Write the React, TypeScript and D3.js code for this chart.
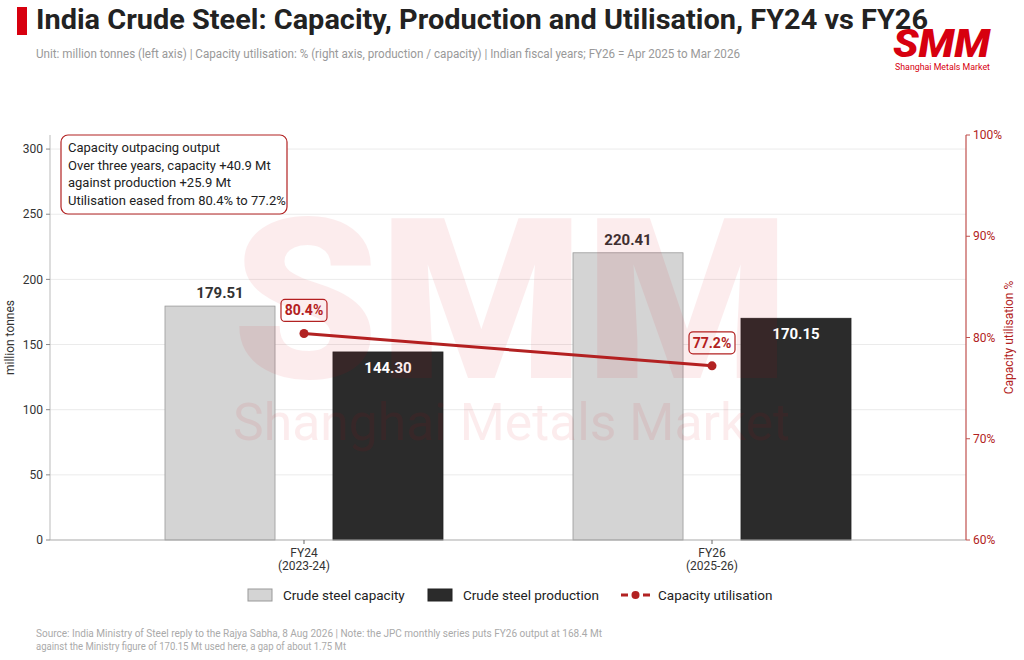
import * as d3 from 'd3';

const categories = ['FY24', 'FY26'];
const categorySub = ['(2023-24)', '(2025-26)'];
const capacity = [179.51, 220.41];
const production = [144.3, 170.15];
const utilisation = [80.4, 77.2];
const leftTicks = [0, 50, 100, 150, 200, 250, 300];
const rightTicks = [60, 70, 80, 90, 100];
const noteLines = [
  'Capacity outpacing output',
  'Over three years, capacity +40.9 Mt',
  'against production +25.9 Mt',
  'Utilisation eased from 80.4% to 77.2%',
];

const W = 1024;
const H = 660;
const margin = { top: 135, right: 58, bottom: 120, left: 50 };
const FONT = 'Roboto, "Noto Sans", sans-serif';
const RED = '#b22222';
const BRAND = '#d7000f';

const App = () => {
  const x0 = margin.left;
  const x1 = W - margin.right;
  const y0 = H - margin.bottom;
  const y1 = margin.top;

  const xScale = d3.scaleBand<string>()
    .domain(categories)
    .range([x0, x1])
    .paddingInner(0)
    .paddingOuter(0.1225);

  // capacity / production side by side inside each category
  const inner = d3.scaleBand<string>()
    .domain(['capacity', 'production'])
    .range([-139, 139])
    .paddingInner(0.345)
    .paddingOuter(0);

  const yLeft = d3.scaleLinear().domain([0, 310.8]).range([y0, y1]);
  const yRight = d3.scaleLinear().domain([60, 100]).range([y0, y1]);

  const cx = (c: string) => (xScale(c) || 0) + xScale.bandwidth() / 2;

  const line = d3.line<number>()
    .x((_, i) => cx(categories[i]))
    .y(d => yRight(d));

  const bw = inner.bandwidth();

  return (
    <svg width={W} height={H} style={{ position: 'absolute', left: 0, top: 0, background: '#fff' }} fontFamily={FONT}>
      <rect width={W} height={H} fill="#fff" />

      {/* header */}
      <rect x={17} y={7} width={10} height={28} fill={BRAND} />
      <text x={36} y={29} fontSize={27} fontWeight={700} fill="#222" textLength={892} lengthAdjust="spacingAndGlyphs">
        India Crude Steel: Capacity, Production and Utilisation, FY24 vs FY26
      </text>
      <text x={36} y={58} fontSize={12} fill="#999" textLength={704} lengthAdjust="spacingAndGlyphs">
        Unit: million tonnes (left axis) | Capacity utilisation: % (right axis, production / capacity) | Indian fiscal years; FY26 = Apr 2025 to Mar 2026
      </text>
      <text x={893} y={57} fontSize={38} fontWeight={900} fontStyle="italic" fill={BRAND} textLength={97} lengthAdjust="spacingAndGlyphs">SMM</text>
      <text x={895} y={70} fontSize={9.5} fill={BRAND} textLength={95} lengthAdjust="spacingAndGlyphs">Shanghai Metals Market</text>

      {/* grid */}
      {leftTicks.filter(t => t > 0).map(t => (
        <line key={t} x1={x0} x2={x1} y1={yLeft(t)} y2={yLeft(t)} stroke="#ebebeb" strokeWidth={1} />
      ))}

      {/* bars */}
      {categories.map((c, i) => (
        <g key={c} transform={`translate(${cx(c)},0)`}>
          <rect x={inner('capacity')} y={yLeft(capacity[i])} width={bw} height={y0 - yLeft(capacity[i])}
            fill="#d4d4d4" stroke="#999" strokeWidth={0.8} />
          <rect x={inner('production')} y={yLeft(production[i])} width={bw} height={y0 - yLeft(production[i])}
            fill="#2b2b2b" stroke="#222" strokeWidth={0.8} />
          <text x={(inner('capacity') || 0) + bw / 2} y={yLeft(capacity[i]) - 8} textAnchor="middle"
            fontSize={15} fontWeight={700} fill="#333">{capacity[i].toFixed(2)}</text>
          <text x={(inner('production') || 0) + bw / 2} y={yLeft(production[i]) + 21} textAnchor="middle"
            fontSize={15} fontWeight={700} fill="#fff">{production[i].toFixed(2)}</text>
        </g>
      ))}

      {/* utilisation line */}
      <path d={line(utilisation) || ''} fill="none" stroke={RED} strokeWidth={3} />
      {utilisation.map((u, i) => {
        const px = cx(categories[i]);
        const py = yRight(u);
        return (
          <g key={i}>
            <circle cx={px} cy={py} r={4.5} fill={RED} />
            <rect x={px - 23} y={py - 34} width={46} height={22} rx={4} fill="#fff" stroke={RED} strokeWidth={1.2} />
            <text x={px} y={py - 18} textAnchor="middle" fontSize={14} fontWeight={700} fill={RED}>{u.toFixed(1)}%</text>
          </g>
        );
      })}

      {/* watermark */}
      <g opacity={0.07} fill={BRAND}>
        <text x={232} y={378} fontSize={225} fontWeight={900} textLength={558} lengthAdjust="spacingAndGlyphs">SMM</text>
        <text x={233} y={440} fontSize={52} textLength={557} lengthAdjust="spacingAndGlyphs">Shanghai Metals Market</text>
      </g>

      {/* left axis */}
      <line x1={x0} x2={x0} y1={y1} y2={y0} stroke="#bbb" />
      {leftTicks.map(t => (
        <g key={t} transform={`translate(${x0},${yLeft(t)})`}>
          <line x1={-4} x2={0} stroke="#888" />
          <text x={-7} dy="0.35em" textAnchor="end" fontSize={12} fill="#333">{t}</text>
        </g>
      ))}
      <text transform={`translate(14,${(y0 + y1) / 2}) rotate(-90)`} textAnchor="middle" fontSize={12} fill="#333">million tonnes</text>

      {/* bottom axis */}
      <line x1={x0} x2={x1} y1={y0} y2={y0} stroke="#aaa" strokeWidth={1.2} />
      {categories.map((c, i) => (
        <g key={c} transform={`translate(${cx(c)},${y0})`}>
          <line y1={0} y2={4} stroke="#666" />
          <text y={17} textAnchor="middle" fontSize={12} fill="#333">{c}</text>
          <text y={30} textAnchor="middle" fontSize={12} fill="#333">{categorySub[i]}</text>
        </g>
      ))}

      {/* right axis */}
      <line x1={x1} x2={x1} y1={y1} y2={y0} stroke="#c0504d" strokeWidth={1.2} />
      {rightTicks.map(t => (
        <g key={t} transform={`translate(${x1},${yRight(t)})`}>
          <line x1={0} x2={4} stroke="#c0504d" />
          <text x={7} dy="0.35em" fontSize={12} fill={RED}>{t}%</text>
        </g>
      ))}
      <text transform={`translate(1013,${(y0 + y1) / 2}) rotate(-90)`} textAnchor="middle" fontSize={12} fill={RED}>Capacity utilisation %</text>

      {/* annotation */}
      <rect x={61} y={135} width={226} height={79} rx={7} fill="#fff" stroke={RED} strokeWidth={1.2} />
      {noteLines.map((l, i) => (
        <text key={i} x={68} y={152 + i * 17.5} fontSize={13} fill="#222">{l}</text>
      ))}

      {/* legend */}
      <g fontSize={13.5} fill="#222">
        <rect x={248} y={589} width={24} height={12} fill="#d4d4d4" stroke="#999" />
        <text x={283} y={600}>Crude steel capacity</text>
        <rect x={428} y={589} width={24} height={12} fill="#2b2b2b" stroke="#222" />
        <text x={463} y={600}>Crude steel production</text>
        <line x1={621} x2={650} y1={595} y2={595} stroke={RED} strokeWidth={3} strokeDasharray="7 4" />
        <circle cx={635.5} cy={595} r={4} fill={RED} />
        <text x={658} y={600}>Capacity utilisation</text>
      </g>

      {/* footer */}
      <g fontSize={10} fill="#aaa">
        <text x={36} y={637} textLength={566} lengthAdjust="spacingAndGlyphs">
          Source: India Ministry of Steel reply to the Rajya Sabha, 8 Aug 2026  |  Note: the JPC monthly series puts FY26 output at 168.4 Mt
        </text>
        <text x={36} y={650} textLength={310} lengthAdjust="spacingAndGlyphs">
          against the Ministry figure of 170.15 Mt used here, a gap of about 1.75 Mt
        </text>
      </g>
    </svg>
  );
};

export default App;
